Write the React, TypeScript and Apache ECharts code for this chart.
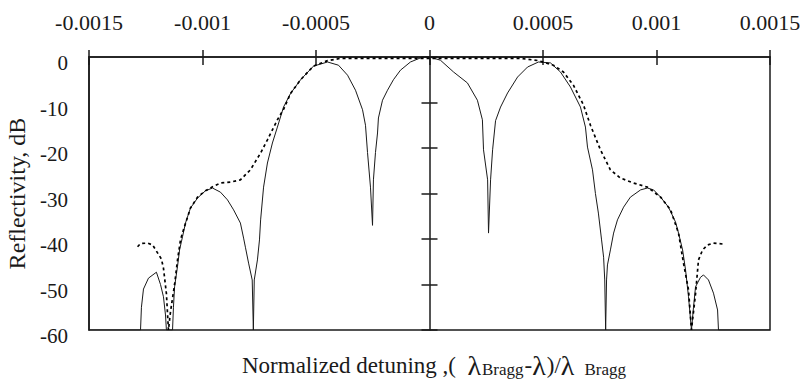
import React, { useEffect, useRef } from "react";
import * as echarts from "echarts";

// Normalized detuning (x) vs reflectivity in dB (y)
const solidCurve: [number, number][] = [
  [-1.5e-3, -60], [-1.273e-3, -60], [-1.269e-3, -55], [-1.26e-3, -51], [-1.238e-3, -48.6],
  [-1.203e-3, -47.3], [-1.185e-3, -50], [-1.172e-3, -52.7], [-1.163e-3, -56.7], [-1.159e-3, -60],
  [-1.132e-3, -60], [-1.128e-3, -55], [-1.123e-3, -50.5], [-1.11e-3, -46], [-1.101e-3, -42.4],
  [-1.088e-3, -39.5], [-1.075e-3, -36.5], [-1.053e-3, -33.2], [-1.022e-3, -31], [-0.987e-3, -29.4],
  [-0.956e-3, -28.8], [-0.921e-3, -29.7], [-0.89e-3, -31.4], [-0.863e-3, -33.6], [-0.833e-3, -36.5],
  [-0.819e-3, -39.8], [-0.811e-3, -41.8], [-0.797e-3, -45.3], [-0.781e-3, -49], [-0.776e-3, -60],
  [-0.772e-3, -49], [-0.758e-3, -44.6], [-0.749e-3, -40.2], [-0.744e-3, -35.8], [-0.731e-3, -28.6],
  [-0.714e-3, -23.3], [-0.692e-3, -18.9], [-0.67e-3, -15.4], [-0.643e-3, -11], [-0.612e-3, -8],
  [-0.568e-3, -5], [-0.511e-3, -2], [-0.449e-3, -1.1], [-0.401e-3, -1.8], [-0.361e-3, -4],
  [-0.326e-3, -7.3], [-0.295e-3, -11.6], [-0.282e-3, -15], [-0.273e-3, -21], [-0.26e-3, -28.6],
  [-0.251e-3, -37], [-0.247e-3, -27], [-0.238e-3, -21], [-0.229e-3, -16.7], [-0.225e-3, -13.4],
  [-0.207e-3, -9.5], [-0.185e-3, -7.3], [-0.159e-3, -5], [-0.128e-3, -2.9], [-0.084e-3, -1.1],
  [-0.04e-3, -0.2], [0, 0], [0.048e-3, -0.7], [0.106e-3, -3.3], [0.167e-3, -5.7],
  [0.211e-3, -9.5], [0.233e-3, -13.8], [0.238e-3, -20.4], [0.256e-3, -27], [0.26e-3, -38.7],
  [0.269e-3, -27], [0.278e-3, -20.4], [0.291e-3, -14], [0.313e-3, -11], [0.344e-3, -7.9],
  [0.388e-3, -4.4], [0.432e-3, -2.2], [0.48e-3, -1.1], [0.533e-3, -1.3], [0.577e-3, -3.3],
  [0.621e-3, -6.6], [0.665e-3, -11], [0.687e-3, -15.4], [0.696e-3, -19.8], [0.718e-3, -24.8],
  [0.731e-3, -30], [0.744e-3, -34.3], [0.758e-3, -40.2], [0.767e-3, -44], [0.772e-3, -49],
  [0.776e-3, -60], [0.78e-3, -49], [0.784e-3, -45.7], [0.797e-3, -42.4], [0.811e-3, -38.7],
  [0.828e-3, -35.8], [0.855e-3, -33], [0.885e-3, -30.8], [0.93e-3, -29.2], [0.96e-3, -28.8],
  [0.987e-3, -29.2], [1.018e-3, -30.8], [1.053e-3, -33], [1.084e-3, -36.3], [1.097e-3, -38.7],
  [1.115e-3, -42.4], [1.128e-3, -46.8], [1.141e-3, -52.7], [1.154e-3, -60], [1.163e-3, -55],
  [1.172e-3, -50.5], [1.194e-3, -48.4], [1.207e-3, -47.9], [1.229e-3, -49], [1.251e-3, -51.9],
  [1.269e-3, -55.6], [1.273e-3, -60], [1.5e-3, -60],
];

const dottedCurve: [number, number][] = [
  [-1.286e-3, -41.7], [-1.273e-3, -41], [-1.242e-3, -40.9], [-1.22e-3, -41.3], [-1.181e-3, -44.4],
  [-1.172e-3, -46.4], [-1.159e-3, -52], [-1.15e-3, -60], [-1.141e-3, -56], [-1.123e-3, -50],
  [-1.11e-3, -44.6], [-1.097e-3, -40.2], [-1.084e-3, -38], [-1.053e-3, -33.2], [-1.022e-3, -30.8],
  [-0.987e-3, -29.4], [-0.952e-3, -28.4], [-0.921e-3, -27.7], [-0.877e-3, -27.5], [-0.833e-3, -27],
  [-0.789e-3, -24.8], [-0.744e-3, -21.1], [-0.714e-3, -18.2], [-0.67e-3, -13.8], [-0.643e-3, -11.5],
  [-0.612e-3, -8], [-0.568e-3, -5], [-0.511e-3, -2], [-0.449e-3, -0.8], [-0.392e-3, -0.3],
  [0.401e-3, -0.3], [0.48e-3, -0.8], [0.546e-3, -1.8], [0.59e-3, -3.3], [0.634e-3, -6.2],
  [0.678e-3, -10.5], [0.709e-3, -15], [0.753e-3, -20.4], [0.775e-3, -22.6], [0.797e-3, -24.8],
  [0.841e-3, -26.6], [0.899e-3, -27.7], [0.96e-3, -28.6], [1.018e-3, -30.8], [1.062e-3, -33.6],
  [1.097e-3, -38.7], [1.119e-3, -45.3], [1.141e-3, -51.2], [1.154e-3, -60], [1.172e-3, -52],
  [1.185e-3, -44.6], [1.203e-3, -42.4], [1.225e-3, -41.3], [1.251e-3, -40.9], [1.291e-3, -41.1],
];

const X_MIN = -0.0015;
const X_MAX = 0.0015;
const X_STEP = 0.0005;
const Y_MIN = -60;
const Y_MAX = 0;
const Y_STEP = 10;

const FONT = "Liberation Serif";
const INK = "#1a1a1a";

export default function App() {
  const ref = useRef<HTMLDivElement>(null);

  useEffect(() => {
    if (!ref.current) return;
    const chart = echarts.init(ref.current, null, { renderer: "svg" });
    const xBase = { type: "value", min: X_MIN, max: X_MAX, interval: X_STEP, splitLine: { show: false } };
    const yBase = { type: "value", min: Y_MIN, max: Y_MAX, interval: Y_STEP, splitLine: { show: false } };
    const main = { fontFamily: FONT, fontWeight: "normal", fontSize: 23, color: INK, lineHeight: 26, verticalAlign: "middle" };
    const lam = { ...main, fontSize: 28 };
    const sub = { fontFamily: FONT, fontWeight: "normal", fontSize: 17, color: INK, lineHeight: 13, verticalAlign: "bottom" };
    chart.setOption({
      animation: false,
      backgroundColor: "#fff",
      textStyle: { fontFamily: FONT },
      title: {
        text: "{n|Normalized detuning ,(  }{l|λ}{s|Bragg}{n|-}{l|λ}{n|)/}{l|λ}{t|Bragg}",
        left: 242,
        top: 352,
        padding: 0,
        textStyle: {
          fontFamily: FONT,
          fontWeight: "normal",
          rich: {
            n: main,
            l: { ...lam, padding: [0, 1, 0, 0] },
            s: { ...sub, padding: [0, 1, 0, 0] },
            t: { ...sub, padding: [0, 0, 0, 9] },
          },
        },
      },
      grid: {
        left: 89,
        right: 32,
        top: 57,
        bottom: 51,
        show: true,
        borderColor: INK,
        borderWidth: 1.5,
        backgroundColor: "transparent",
        containLabel: false,
        outerBoundsMode: "none",
      },
      xAxis: [
        {
          ...xBase,
          position: "top",
          axisLine: { onZero: false, show: true, lineStyle: { color: INK, width: 1.5 } },
          axisTick: { show: true, length: 7, lineStyle: { color: INK, width: 1.5 } },
          axisLabel: { fontFamily: FONT, fontSize: 22, color: INK, margin: 24 },
        },
        {
          ...xBase,
          position: "bottom",
          axisLine: { onZero: true, onZeroAxisIndex: 0, show: false },
          axisTick: { show: true, length: 8, lineStyle: { color: INK, width: 1.5 } },
          axisLabel: { show: false },
        },
      ],
      yAxis: [
        {
          ...yBase,
          position: "left",
          axisLine: { onZero: false, show: true, lineStyle: { color: INK, width: 1.5 } },
          axisTick: { show: false },
          axisLabel: { fontFamily: FONT, fontSize: 21, color: INK, margin: 21, verticalAlign: "top", lineHeight: 12 },
          name: "Reflectivity, dB",
          nameLocation: "middle",
          nameRotate: 90,
          nameGap: 60,
          nameTextStyle: { fontFamily: FONT, fontSize: 24, color: INK },
        },
        {
          ...yBase,
          position: "left",
          axisLine: { onZero: true, onZeroAxisIndex: 0, show: true, lineStyle: { color: INK, width: 1.5 } },
          axisTick: { show: true, length: 8, lineStyle: { color: INK, width: 1.5 } },
          axisLabel: { show: false },
        },
        {
          ...yBase,
          position: "right",
          axisLine: { onZero: true, onZeroAxisIndex: 0, show: false },
          axisTick: { show: true, length: 8, lineStyle: { color: INK, width: 1.5 } },
          axisLabel: { show: false },
        },
      ],
      series: [
        {
          type: "line",
          data: solidCurve,
          showSymbol: false,
          symbol: "none",
          lineStyle: { color: INK, width: 1 },
          z: 3,
        },
        {
          type: "line",
          data: dottedCurve,
          showSymbol: false,
          symbol: "none",
          lineStyle: { color: "#000", width: 1.7, type: [3, 3] },
          z: 4,
        },
      ],
    });
    return () => chart.dispose();
  }, []);

  return (
    <div
      ref={ref}
      style={{ position: "fixed", left: 0, top: 0, width: 802, height: 381, background: "#fff" }}
    />
  );
}
